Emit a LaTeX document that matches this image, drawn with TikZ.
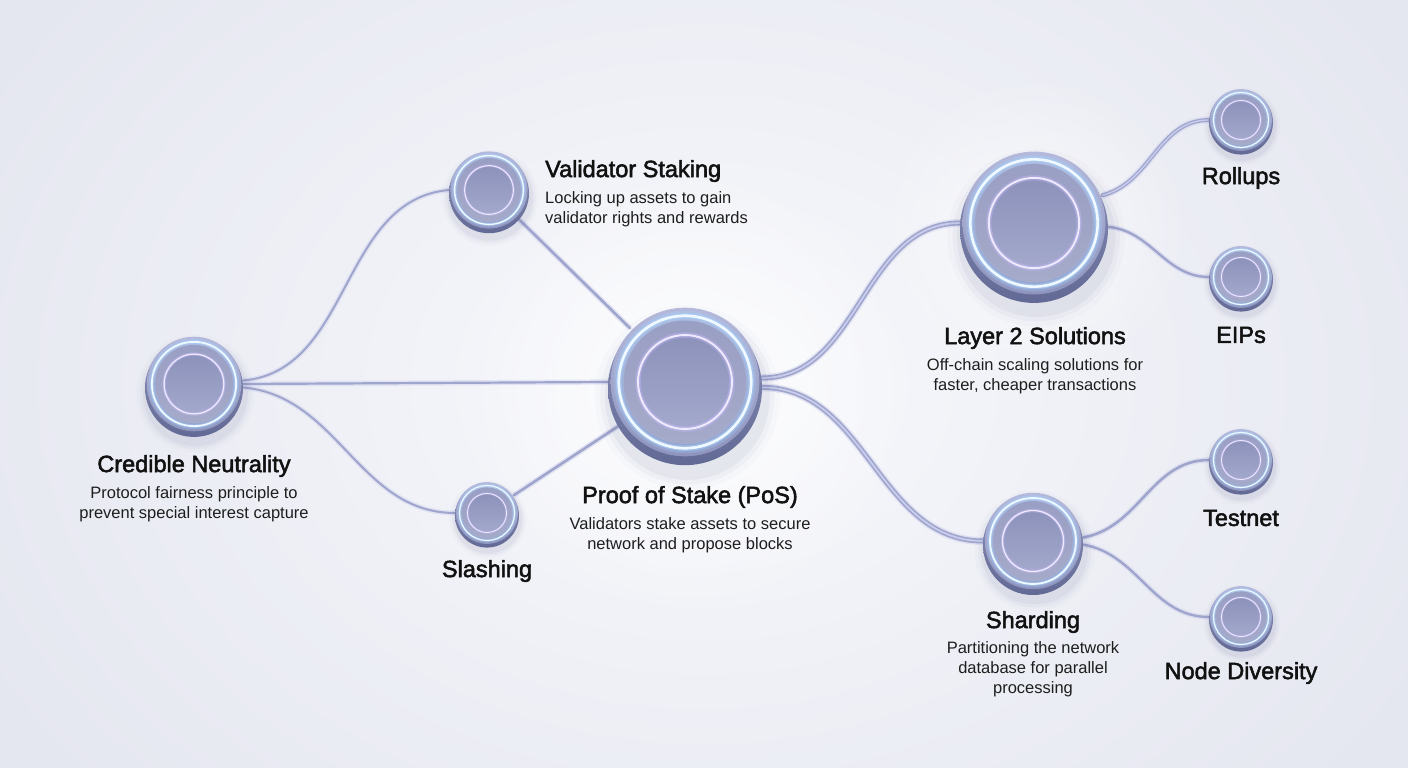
\documentclass[tikz,border=0pt]{standalone}
\usepackage{fontspec}
\setmainfont{Liberation Sans}
\newfontfamily\titlefont{Liberation Sans}[FakeBold=2.2]
\usetikzlibrary{fadings,calc}
\definecolor{bgc}{HTML}{F8F9FC}
\definecolor{bge}{HTML}{E3E5EF}
\definecolor{shadowc}{HTML}{4E5488}
\definecolor{sidetop}{HTML}{8D93BB}
\definecolor{sidebot}{HTML}{626994}
\definecolor{facetop}{HTML}{B4B9DB}
\definecolor{facebot}{HTML}{8E94BD}
\definecolor{ringc}{HTML}{F0F9FF}
\definecolor{ringglow}{HTML}{A6D4FF}
\definecolor{innertop}{HTML}{8C92BA}
\definecolor{innerbot}{HTML}{A3A8CC}
\definecolor{iring}{HTML}{F0EAFF}
\definecolor{iglow}{HTML}{C8BBFF}
\definecolor{linkc}{HTML}{A0A5CE}
\definecolor{linkglow}{HTML}{D5D8EE}
\definecolor{linkhi}{HTML}{C9CDEB}
\definecolor{titlec}{HTML}{111111}
\definecolor{descc}{HTML}{1E1E1E}
\tikzfading[name=halofade, inner color=transparent!0, outer color=transparent!100]
\pgfdeclarelayer{bg}
\pgfdeclarelayer{links}
\pgfsetlayers{bg,links,main}
\tikzset{
  orbnode/.style={circle, inner sep=0pt, outer sep=0pt, minimum size=#1},
  ttl/.style={font=\titlefont\fontsize{23.5}{26}\selectfont, text=titlec, inner sep=0pt},
  dsc/.style={font=\fontsize{16.5}{20}\selectfont, text=descc, align=center, inner sep=0pt},
  link/.style={draw=linkc, line width=#1pt, line cap=round,
     preaction={draw=linkglow, line width=#1pt+3pt, opacity=0.6}},
  tlink/.style={link=#1, postaction={draw=linkhi, line width=#1pt*0.35}}
}
\newcommand\orb[4]{%
  \node[orbnode={2*#4 pt}] (#1) at (#2,#3) {};
  \begin{scope}[shift={(#1.center)}, x=#4pt, y=#4pt]
    \foreach \s/\o in {1.2/0.025,1.13/0.04,1.07/0.06}{\fill[shadowc, opacity=\o] (0.03,-0.2) circle (\s);}
    \shade[top color=sidetop, bottom color=sidebot] (0,-0.08) circle (1);
    \shade[top color=facetop, bottom color=facebot] (0,0) circle (0.965);
    \shade[top color=facebot!90!white, bottom color=facetop!92!black] (0,0) circle (0.8);
    \draw[ringglow, opacity=0.25, line width={0.13*#4 pt}] (0,0) circle (0.86);
    \draw[ringglow, opacity=0.5, line width={0.07*#4 pt}] (0,0) circle (0.86);
    \draw[ringc, line width={0.035*#4 pt}] (0,0) circle (0.86);
    \shade[top color=innertop, bottom color=innerbot] (0,0) circle (0.6);
    \draw[iglow, opacity=0.4, line width={0.07*#4 pt}] (0,0) circle (0.61);
    \draw[iring, line width={0.025*#4 pt}] (0,0) circle (0.61);
  \end{scope}}
\begin{document}
\begin{tikzpicture}[x=1pt,y=-1pt]
\useasboundingbox (0,0) rectangle (1408,768);
\begin{pgfonlayer}{bg}
  \shade[inner color=bgc, outer color=bge] (-200,-300) rectangle (1608,1068);
  \fill[white, opacity=0.8, path fading=halofade] (690,390) circle (230);
  \fill[white, opacity=0.6, path fading=halofade] (1034,230) circle (160);
\end{pgfonlayer}

% orbs
\orb{cn}{194}{384}{49}
\orb{vs}{489}{190}{40}
\orb{sl}{487}{513}{32}
\orb{pos}{685}{382}{77}
\orb{l2}{1034}{223}{74}
\orb{sh}{1033}{541}{50}
\orb{ro}{1241}{120}{32}
\orb{ei}{1241}{277}{32}
\orb{te}{1241}{460}{32}
\orb{nd}{1241}{617}{32}

% links
\begin{pgfonlayer}{links}
  \draw[link=2] (cn.4) to[out=5,in=185] (vs.west);
  \draw[link=2.2] (cn.east) -- (pos.west);
  \draw[link=2] (cn.-4) to[out=-5,in=180] (sl.west);
  \draw[link=2.6] (vs) -- (pos);
  \draw[link=2.6] (sl) -- (pos);
  \draw[tlink=5] (pos.3) to[out=0,in=180] (l2.west);
  \draw[tlink=5] (pos.-4) to[out=0,in=180] (sh.west);
  \draw[tlink=4] (l2.22) to[out=15,in=180] (ro.west);
  \draw[link=2.4] (l2.-3) to[out=-5,in=180] (ei.west);
  \draw[link=2.6] (sh.4) to[out=10,in=180] (te.west);
  \draw[link=2.4] (sh.-4) to[out=-10,in=180] (nd.west);
\end{pgfonlayer}

% labels
\node[ttl] (cnt) at (194,466) {Credible Neutrality};
\node[dsc] (cnd) at (194,504) {Protocol fairness principle to\\prevent special interest capture};
\node[ttl, anchor=west] (vst) at (545,171) {Validator Staking};
\node[dsc, anchor=west, align=left] (vsd) at (545,209) {Locking up assets to gain\\validator rights and rewards};
\node[ttl] (slt) at (487,571) {Slashing};
\node[ttl] (post) at (690,497) {Proof of Stake (PoS)};
\node[dsc] (posd) at (690,535) {Validators stake assets to secure\\network and propose blocks};
\node[ttl] (l2t) at (1035,338) {Layer 2 Solutions};
\node[dsc] (l2d) at (1035,376) {Off-chain scaling solutions for\\faster, cheaper transactions};
\node[ttl] (sht) at (1033,622) {Sharding};
\node[dsc] (shd) at (1033,669.5) {Partitioning the network\\database for parallel\\processing};
\node[ttl] (rot) at (1241,178) {Rollups};
\node[ttl] (eit) at (1241,335) {EIPs};
\node[ttl] (tet) at (1241,518) {Testnet};
\node[ttl] (ndt) at (1241,673) {Node Diversity};
\end{tikzpicture}
\end{document}
